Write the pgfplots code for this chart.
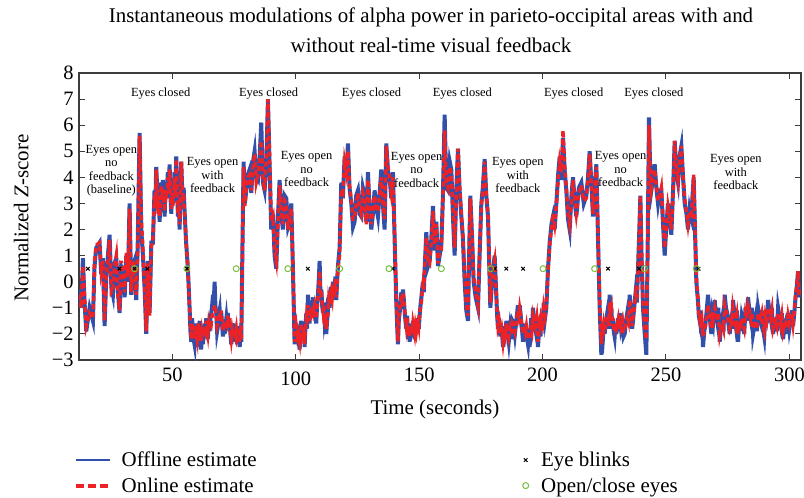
\documentclass[border=0pt]{standalone}
\usepackage{pgfplots}
\pgfplotsset{compat=1.18}
\usepackage{pgfplotstable}
\usepackage{fontspec}
\setmainfont{Liberation Serif}
\definecolor{offblue}{RGB}{50,80,170}
\definecolor{onred}{RGB}{237,34,38}
\definecolor{ocgreen}{RGB}{120,192,60}
\definecolor{axisgray}{RGB}{60,60,60}

\pgfplotstableread{
t off on
12.16 -0.3 -0.5
13.11 -1.0 -1.0
13.79 0.9 0.6
14.46 -0.8 -0.6
15.14 -1.9 -1.7
16.49 -1.0 -1.2
17.84 -1.5 -1.4
18.5 0.6 0.8
19.19 1.3 1.4
20.54 1.5 1.5
21.2 0.3 0.4
21.89 0.9 0.8
22.57 -1.7 -1.5
23.24 0.2 0.1
24.59 1.8 1.6
25.3 -0.2 -0.4
25.94 -0.5 -0.3
26.6 0.7 0.6
27.29 0.9 1.0
28.0 -0.4 -0.6
28.64 -1.2 -1.1
29.3 0.6 0.8
29.99 0.5 0.3
30.7 -0.6 -0.4
31.34 1.0 1.1
32.0 0.0 0.2
32.69 3.0 2.8
33.37 -0.5 -0.4
34.04 0.6 0.8
34.7 0.8 0.5
35.39 -0.7 -0.5
36.0 1.5 1.2
36.75 5.7 5.6
37.42 2.0 2.5
38.10 1.0 1.3
38.8 -0.3 -0.2
39.45 -2.0 -1.9
40.1 0.8 0.7
40.80 -1.2 -1.3
41.5 1.5 1.3
42.15 1.5 1.7
42.8 3.5 3.3
43.15 3.0 2.9
43.50 4.4 4.3
43.85 3.6 3.5
44.2 2.8 2.6
44.5 3.4 3.3
44.85 2.3 2.5
45.2 3.1 3.0
45.5 3.8 3.7
45.85 3.1 3.2
46.20 3.9 3.6
46.55 3.2 3.1
46.9 2.5 2.7
47.2 3.6 3.5
47.55 3.2 3.3
47.9 3.7 3.5
48.2 4.2 4.0
48.55 3.4 3.5
48.90 4.5 4.3
49.25 3.3 3.4
49.6 2.6 2.8
49.9 3.5 3.4
50.25 3.0 2.9
50.6 3.6 3.5
50.9 4.2 4.0
51.25 3.5 3.4
51.60 4.8 4.7
51.95 3.4 3.5
52.3 2.5 2.6
52.6 3.2 3.1
52.95 2.0 2.2
53.3 3.5 3.4
53.63 4.6 4.6
53.95 3.7 3.8
54.3 3.2 3.3
54.6 3.6 3.4
54.98 2.7 2.6
55.6 1.5 1.6
56.33 0.5 0.4
57.0 -1.0 -1.0
57.35 -1.9 -1.7
57.68 -2.3 -2.2
58.0 -1.4 -1.6
58.3 -1.8 -1.9
58.65 -2.2 -2.0
59.0 -2.4 -2.2
59.35 -1.6 -1.7
59.71 -2.2 -2.0
60.05 -2.5 -2.2
60.4 -1.6 -1.6
60.7 -2.0 -1.9
61.06 -1.5 -1.7
61.4 -2.2 -2.0
61.7 -2.6 -2.3
62.05 -1.8 -1.9
62.41 -2.4 -2.1
62.75 -1.9 -2.0
63.1 -1.6 -1.8
63.4 -2.1 -1.9
63.76 -1.4 -1.5
64.1 -1.7 -1.8
64.4 -2.2 -2.0
64.75 -1.5 -1.6
65.11 -1.9 -1.8
65.45 -1.4 -1.5
65.8 -1.2 -1.6
66.15 -0.9 -1.3
66.5 -0.5 -1.2
66.8 -0.8 -1.1
67.14 0.0 -0.9
67.45 -0.9 -1.0
67.8 -1.2 -1.3
68.15 -1.9 -1.7
68.49 -1.7 -1.6
68.85 -1.3 -1.4
69.2 -1.1 -1.2
69.5 -1.6 -1.5
69.84 -1.2 -1.1
70.15 -1.6 -1.6
70.5 -2.1 -1.9
70.85 -1.6 -1.7
71.19 -2.0 -1.8
71.55 -1.7 -1.7
71.9 -1.4 -1.5
72.2 -1.7 -1.6
72.5 -1.2 -1.3
72.85 -1.8 -1.7
73.21 -1.5 -1.4
73.55 -2.0 -1.9
73.9 -2.4 -2.2
74.25 -1.9 -1.9
74.56 -2.3 -2.1
74.9 -1.8 -1.9
75.2 -1.6 -1.8
75.55 -2.2 -2.0
75.9 -1.9 -1.8
76.25 -2.4 -2.2
76.59 -2.0 -2.1
76.95 -1.7 -1.8
77.3 -2.5 -2.3
77.6 -2.0 -2.0
77.94 -2.3 -2.2
78.3 0.5 0.3
78.88 4.6 4.4
79.4 3.0 2.9
79.97 3.5 3.6
80.6 4.1 4.0
81.32 4.3 4.1
82.0 3.4 3.5
82.7 4.6 4.4
83.34 5.0 4.9
84.0 4.0 3.8
84.69 3.9 4.1
85.4 4.8 4.6
86.04 6.1 5.4
86.7 3.8 4.0
87.39 3.5 3.5
88.1 4.5 4.8
88.74 7.0 7.0
89.4 4.5 4.9
90.09 2.0 2.3
90.8 2.6 2.5
91.44 1.0 1.2
92.12 0.5 0.8
92.8 2.5 2.2
93.47 3.9 3.7
94.1 2.6 2.8
94.82 2.0 2.2
95.5 3.3 3.1
96.17 3.2 3.0
96.9 2.1 2.0
97.52 2.3 2.5
98.2 3.0 2.8
98.87 0.5 0.6
99.55 -2.4 -2.3
99.9 -1.8 -1.9
100.2 -1.6 -1.7
100.55 -2.2 -2.0
100.90 -1.9 -1.8
101.25 -2.3 -2.1
101.6 -2.6 -2.3
101.9 -1.8 -1.9
102.25 -1.5 -1.6
102.6 -2.2 -2.1
102.9 -2.0 -2.0
103.25 -1.6 -1.7
103.60 -2.5 -2.4
103.95 -1.7 -1.8
104.3 -1.2 -1.4
104.6 -1.8 -1.6
104.95 -0.5 -0.9
105.3 -1.1 -1.2
105.6 -1.6 -1.5
105.95 -0.9 -1.0
106.30 -1.3 -1.4
106.65 -1.0 -1.1
107.0 -0.6 -0.9
107.3 -1.2 -1.1
107.65 -0.8 -0.9
108.0 -1.1 -1.1
108.3 -1.6 -1.4
108.65 -0.9 -1.0
109.0 -0.5 -0.7
109.35 0.1 -0.2
109.68 0.8 0.4
110.05 -0.6 -0.5
110.4 -0.3 -0.4
110.7 -0.9 -0.8
111.03 -1.2 -1.1
111.35 -0.8 -0.9
111.7 -1.5 -1.4
112.05 -1.3 -1.3
112.38 -2.0 -1.8
112.7 -1.5 -1.5
113.0 -1.2 -1.3
113.35 -0.6 -0.7
113.73 -1.0 -0.9
114.05 -0.5 -0.6
114.4 -0.2 -0.4
114.75 -0.6 -0.6
115.08 0.0 -0.1
115.4 -0.4 -0.3
115.7 -0.7 -0.5
116.05 0.2 0.1
116.43 -0.7 -0.6
116.75 0.0 -0.1
117.1 0.6 0.5
117.78 1.3 1.0
118.46 3.8 3.5
119.1 3.2 3.4
119.81 4.8 4.6
120.5 4.0 4.2
121.16 5.3 5.0
121.8 3.6 3.7
122.51 3.0 3.1
123.2 2.1 2.4
123.86 2.3 2.4
124.5 3.3 3.0
125.21 3.5 3.4
125.9 2.6 2.8
126.56 2.5 2.6
127.2 3.6 3.4
127.91 3.3 3.2
128.6 2.3 2.2
129.26 4.2 3.9
129.9 2.9 3.0
130.61 2.0 2.2
131.3 2.6 2.8
131.96 3.5 3.3
132.6 2.9 2.8
133.31 2.5 2.7
134.0 3.4 3.3
134.66 4.3 4.0
135.3 3.0 3.1
136.01 2.0 2.4
136.69 5.3 5.2
137.4 4.2 4.4
138.04 4.0 3.9
138.7 3.2 3.4
139.39 4.2 4.0
140.1 1.5 1.7
140.74 -0.8 -0.6
141.4 -2.4 -2.3
141.75 -1.5 -1.4
142.1 -1.2 -1.0
142.45 -0.8 -0.9
142.8 -0.4 -0.5
143.1 -1.0 -0.9
143.45 -0.3 -0.4
143.8 -0.7 -0.7
144.1 -1.1 -1.0
144.45 -1.5 -1.4
144.80 -1.8 -1.7
145.15 -1.3 -1.4
145.5 -2.2 -2.0
145.8 -1.7 -1.8
146.15 -2.3 -2.1
146.5 -1.9 -1.9
146.8 -1.6 -1.7
147.15 -2.1 -2.0
147.50 -1.5 -1.6
147.85 -1.9 -1.8
148.2 -2.2 -2.0
148.5 -1.6 -1.7
148.85 -2.0 -1.9
149.2 -1.7 -1.6
149.5 -1.4 -1.5
149.85 -1.8 -1.7
150.20 -1.3 -1.2
150.55 -0.9 -1.0
150.9 -0.6 -0.8
151.2 -0.3 -0.4
151.55 0.0 -0.1
151.9 -0.4 -0.3
152.2 0.4 0.5
152.90 1.9 1.7
153.6 0.6 0.8
154.26 0.8 0.7
154.9 1.6 1.5
155.61 2.9 2.7
156.28 1.2 1.4
156.96 2.3 2.2
157.63 0.6 0.7
158.3 1.0 1.1
158.98 1.4 1.2
159.6 3.2 3.0
160.33 6.4 5.8
161.0 3.6 3.8
161.68 3.5 3.6
162.4 4.6 4.4
163.03 4.3 4.1
163.7 2.5 2.8
164.38 1.0 1.3
165.0 3.4 3.2
165.74 5.1 5.1
166.4 3.5 3.7
167.09 2.5 2.6
167.7 1.7 1.8
168.44 0.0 0.3
169.1 -1.1 -0.9
169.79 -1.5 -1.3
170.2 0.8 0.9
170.73 3.3 3.2
171.4 1.8 1.9
172.08 0.0 0.2
172.9 -0.6 -0.4
173.84 -1.0 -0.9
174.5 1.0 1.2
175.19 3.0 2.9
175.8 3.6 3.5
176.54 4.7 4.6
177.2 3.3 3.4
177.89 2.5 2.6
178.3 1.0 1.2
178.84 -1.0 -0.8
179.7 0.2 0.3
180.59 1.0 0.8
181.3 -0.6 -0.5
181.6 -1.3 -1.2
181.94 -1.8 -1.7
182.4 -1.4 -1.5
182.9 -2.1 -2.0
183.4 -1.7 -1.8
183.97 -2.5 -2.3
184.3 -2.0 -2.0
184.6 -1.7 -1.8
184.95 -2.2 -2.0
185.32 -1.5 -1.6
185.8 -1.9 -1.8
186.3 -2.3 -2.1
186.8 -1.8 -1.8
187.35 -2.2 -2.0
187.8 -1.5 -1.6
188.3 -1.6 -1.7
188.8 -2.0 -1.9
189.37 -1.5 -1.5
189.7 -1.2 -1.3
190.0 -0.9 -1.1
190.35 -1.3 -1.3
190.72 -0.9 -1.0
191.05 -1.2 -1.2
191.4 -1.6 -1.5
191.75 -1.9 -1.8
192.07 -2.3 -2.0
192.4 -1.9 -1.9
192.7 -1.6 -1.7
193.05 -2.1 -1.9
193.42 -1.8 -1.7
193.75 -2.2 -2.0
194.1 -2.4 -2.2
194.45 -1.9 -1.9
194.77 -2.5 -2.2
195.1 -1.8 -1.8
195.4 -1.4 -1.6
195.75 -1.9 -1.8
196.12 -1.0 -1.3
196.6 -1.5 -1.5
197.1 -1.8 -1.7
197.6 -1.3 -1.4
198.15 -2.5 -2.3
198.5 -2.0 -2.0
198.8 -1.7 -1.7
199.15 -2.1 -1.9
199.50 -1.3 -1.4
200.0 -1.7 -1.6
200.5 -0.8 -1.0
201.0 -1.4 -1.3
201.53 -1.0 -0.9
202.2 0.5 0.4
202.88 1.5 1.4
203.6 2.2 2.0
204.23 2.5 2.6
204.9 2.0 2.2
205.58 3.0 2.9
206.3 4.1 3.9
206.93 4.8 4.6
207.6 3.9 4.2
208.28 5.5 5.8
209.0 4.2 4.4
209.63 3.5 3.6
210.3 2.4 2.6
210.98 2.0 2.2
211.7 3.3 3.1
212.33 4.0 3.9
213.0 3.1 3.2
213.68 2.5 2.6
214.7 3.6 3.4
215.71 3.8 3.7
216.7 3.0 3.1
217.73 3.3 3.2
218.4 4.0 3.9
219.08 5.0 4.9
219.8 3.7 3.8
220.43 2.5 2.6
221.1 3.6 3.5
221.79 4.5 4.4
222.5 1.5 1.7
223.14 -1.0 -0.8
223.81 -2.8 -2.4
224.15 -1.9 -1.9
224.5 -2.1 -2.1
224.85 -1.6 -1.7
225.16 -2.0 -1.9
225.7 -1.5 -1.5
226.2 -1.2 -1.3
226.7 -1.8 -1.7
227.19 -0.5 -0.8
227.55 -1.3 -1.3
227.9 -1.0 -1.1
228.2 -1.8 -1.7
228.54 -1.5 -1.4
228.85 -1.9 -1.8
229.2 -2.1 -1.9
229.55 -1.6 -1.6
229.89 -2.0 -1.8
230.25 -1.7 -1.7
230.6 -1.4 -1.5
230.9 -1.9 -1.8
231.24 -1.2 -1.3
231.8 -1.8 -1.7
232.3 -1.6 -1.5
232.8 -2.1 -1.9
233.27 -2.0 -1.9
233.8 -1.5 -1.6
234.3 -1.2 -1.3
234.8 -1.6 -1.5
235.29 -0.5 -0.7
235.65 -1.0 -1.0
236.0 -1.2 -1.1
236.3 -1.8 -1.7
236.64 -1.5 -1.4
237.2 -0.9 -1.0
237.7 -0.4 -0.5
238.2 -0.8 -0.7
238.67 0.5 0.4
239.2 2.0 2.0
239.62 3.3 3.3
240.1 1.0 1.2
240.69 -1.0 -0.8
241.4 -2.0 -1.8
242.04 -2.8 -2.2
242.6 1.5 1.3
243.12 6.3 6.0
243.6 4.2 4.3
244.07 3.5 3.6
244.8 4.0 4.1
245.42 4.5 4.3
246.1 3.6 3.7
246.77 3.0 3.1
247.5 3.5 3.3
248.12 3.5 3.6
248.8 2.2 2.4
249.47 1.0 1.3
250.2 2.2 2.1
250.82 3.0 2.9
251.5 2.4 2.5
252.17 1.8 2.0
252.9 3.6 3.4
253.52 5.4 5.4
254.2 4.2 4.4
254.87 3.8 3.9
255.5 4.8 4.7
256.23 5.2 5.2
256.9 4.0 4.1
257.58 3.0 3.2
258.3 2.6 2.7
258.93 2.0 2.2
259.6 2.8 2.7
260.28 2.5 2.6
260.7 3.2 3.1
261.22 4.0 4.1
261.8 1.8 2.0
262.30 0.0 0.2
263.0 -0.8 -0.7
263.3 -1.3 -1.2
263.65 -1.5 -1.4
264.0 -1.1 -1.2
264.3 -2.0 -1.8
264.65 -1.6 -1.6
265.00 -2.5 -2.1
265.5 -1.9 -1.9
266.0 -1.6 -1.7
266.5 -1.1 -1.3
267.03 -0.5 -0.9
267.35 -1.0 -1.1
267.7 -1.3 -1.4
268.05 -1.7 -1.6
268.38 -2.0 -1.8
268.75 -1.3 -1.4
269.1 -1.5 -1.5
269.4 -1.0 -1.2
269.73 -0.7 -1.0
270.2 -1.2 -1.2
270.7 -1.5 -1.5
271.2 -1.0 -1.2
271.76 -2.3 -2.0
272.3 -1.7 -1.7
272.8 -1.4 -1.6
273.3 -1.9 -1.8
273.78 -0.5 -0.9
274.3 -1.0 -1.1
274.8 -1.2 -1.3
275.3 -1.6 -1.5
275.81 -2.0 -1.8
276.15 -1.6 -1.7
276.5 -1.4 -1.5
276.8 -1.8 -1.7
277.16 -0.7 -1.0
277.7 -1.2 -1.3
278.2 -1.6 -1.6
278.7 -1.1 -1.3
279.19 -2.3 -2.0
279.7 -1.5 -1.6
280.2 -1.9 -1.8
280.7 -1.3 -1.4
281.21 -1.5 -1.6
281.7 -2.0 -1.8
282.2 -1.0 -1.2
282.7 -1.5 -1.4
283.24 -0.6 -0.9
283.8 -1.1 -1.1
284.3 -1.4 -1.4
284.8 -1.0 -1.2
285.27 -2.0 -1.8
285.8 -1.7 -1.6
286.3 -1.4 -1.5
286.8 -1.9 -1.8
287.29 -1.0 -1.2
287.8 -1.3 -1.3
288.3 -1.5 -1.4
288.8 -1.1 -1.2
289.32 -1.8 -1.7
289.8 -2.1 -1.9
290.3 -1.2 -1.3
290.8 -1.6 -1.5
291.34 -0.7 -1.0
291.9 -1.1 -1.2
292.4 -1.4 -1.4
292.9 -1.0 -1.1
293.37 -2.0 -1.8
293.9 -1.6 -1.6
294.4 -1.5 -1.5
294.9 -1.9 -1.7
295.40 -1.0 -1.2
295.9 -1.3 -1.3
296.4 -1.6 -1.6
296.9 -1.2 -1.3
297.42 -2.2 -1.9
297.9 -1.8 -1.7
298.4 -1.6 -1.6
298.9 -2.0 -1.8
299.45 -1.2 -1.3
300.0 -1.8 -1.6
300.5 -1.5 -1.4
301.0 -1.1 -1.2
301.47 -1.7 -1.6
302.0 -1.2 -1.1
302.5 -0.6 -0.5
303.0 -0.2 -0.1
303.50 0.4 0.4
303.85 -0.6 -0.5
304.17 -0.2 -0.3
}\alphadata

\pgfplotstableread{
t y
15.8 0.5
28.6 0.5
34.7 0.5
39.9 0.5
55.9 0.5
104.9 0.5
139.3 0.5
180.6 0.5
185.3 0.5
192.1 0.5
226.5 0.5
239.1 0.5
263.2 0.5
}\blinks

\pgfplotstableread{
t y
34.7 0.5
55.9 0.5
75.9 0.5
96.8 0.5
117.8 0.5
137.8 0.5
159.0 0.5
179.0 0.5
200.2 0.5
221.1 0.5
241.3 0.5
262.3 0.5
}\openclose

\begin{document}
\begin{tikzpicture}
\useasboundingbox (-79bp,-138bp) rectangle (725bp,360bp);
\begin{axis}[
  at={(0,0)}, anchor=south west,
  scale only axis, width=722bp, height=287bp,
  xmin=12.2, xmax=304.7, ymin=-3, ymax=8,
  xtick={50,100,150,200,250,300},
  xticklabels={50,\raisebox{-4.5bp}[\height]{100},150,200,250,300},
  ytick={-3,-2,-1,0,1,2,3,4,5,6,7,8},
  yticklabels={−3,−2,−1,0,1,2,3,4,5,6,7,8},
  tick align=inside, major tick length=6bp,
  tick style={line width=1bp, color=axisgray},
  axis line style={line width=1.2bp, color=axisgray},
  ticklabel style={font=\fontsize{20.5}{22}\selectfont},
  xticklabel style={yshift=-4bp},
  yticklabel style={xshift=-2bp},
  xlabel={Time (seconds)},
  xlabel style={font=\fontsize{21}{24}\selectfont, at={(axis description cs:0.493,-0.1733)}, anchor=center},
  ylabel={Normalized \textit{Z}-score},
  ylabel style={font=\fontsize{21}{24}\selectfont, at={(axis description cs:-0.0801,0.4948)}, anchor=center},
  title={Instantaneous modulations of alpha power in parieto-occipital areas with and\\without real-time visual feedback},
  title style={font=\fontsize{21}{30}\selectfont, align=center, at={(axis description cs:0.4875,1.129)}, anchor=center},
  legend columns=2, transpose legend, legend cell align=left,
  legend style={draw=none, fill=none, font=\fontsize{21}{24}\selectfont,
    at={(axis description cs:-0.011,-0.3056)}, anchor=north west, row sep=5.5bp,
    /tikz/every odd column/.append style={column sep=7.5bp},
    /tikz/every even column/.append style={column sep=263bp}},
]
\addplot[offblue, line width=4bp,
  legend image code/.code={\draw[offblue, line width=1.2bp] (0bp,0bp) -- (34bp,0bp);}] table[x=t,y=off]{\alphadata};
\addlegendentry{Offline estimate}
\addplot[onred, line width=3.4bp, dash pattern=on 5bp off 3bp,
  legend image code/.code={\draw[onred, line width=4bp, dash pattern=on 8bp off 4bp] (0bp,0bp) -- (34bp,0bp);}] table[x=t,y=on]{\alphadata};
\addlegendentry{Online estimate}
\addplot[only marks, mark=x, mark size=2.5bp, black, mark options={line width=1bp},
  legend image code/.code={\path[draw=none,fill=none] (0bp,-1bp) rectangle (10bp,1bp); \draw[black, line width=1bp, mark size=2.5bp] plot[only marks, mark=x] coordinates {(4bp,0bp)};}] table[x=t,y=y]{\blinks};
\addlegendentry{Eye blinks}
\addplot[only marks, mark=o, mark size=3bp, ocgreen, mark options={line width=1bp},
  legend image code/.code={\path[draw=none,fill=none] (0bp,-1bp) rectangle (10bp,1bp); \draw[ocgreen, line width=1bp, mark size=3bp] plot[only marks, mark=o] coordinates {(4bp,0bp)};}] table[x=t,y=y]{\openclose};
\addlegendentry{Open/close eyes}

\begin{scope}[every node/.style={font=\fontsize{12.5}{13.5}\selectfont, align=center}]
\node at (axis cs:45.3,7.23) {Eyes closed};
\node at (axis cs:89.0,7.23) {Eyes closed};
\node at (axis cs:130.7,7.23) {Eyes closed};
\node at (axis cs:167.5,7.23) {Eyes closed};
\node at (axis cs:212.6,7.23) {Eyes closed};
\node at (axis cs:245.1,7.23) {Eyes closed};
\node at (axis cs:25.3,4.26) {Eyes open\\no\\feedback\\(baseline)};
\node at (axis cs:66.3,4.09) {Eyes open\\with\\feedback};
\node at (axis cs:104.4,4.32) {Eyes open\\no\\feedback};
\node at (axis cs:149.0,4.30) {Eyes open\\no\\feedback};
\node at (axis cs:190.0,4.09) {Eyes open\\with\\feedback};
\node at (axis cs:231.6,4.32) {Eyes open\\no\\feedback};
\node at (axis cs:278.3,4.20) {Eyes open\\with\\feedback};
\end{scope}
\end{axis}
\end{tikzpicture}
\end{document}
